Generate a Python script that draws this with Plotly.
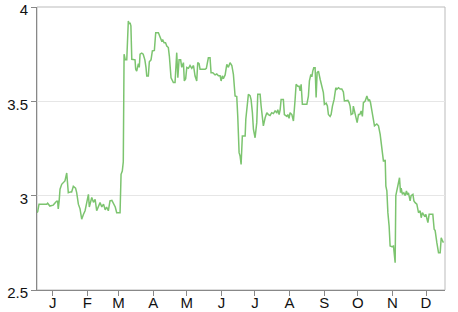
import pandas as pd
import plotly.graph_objects as go

# day offsets from Jan 1 and values
days = [0, 0.6, 1.8, 8.7, 9.5, 11.5, 14.5, 17.5, 18.5, 19, 19.8, 20.6, 22.1, 24, 25, 26.6, 27.2, 28, 30, 31, 32.5, 34.5,
        35.5, 37, 38.5, 40, 41.5, 43, 44.5, 46, 46.8, 49, 50.5, 52, 53.4, 55, 56.4, 58, 59.5, 61, 62.3, 63.8, 65.3, 67,
        68.3, 70, 71.3, 72.8, 74.3, 75.2, 76.3, 77.2, 77.9, 79, 80.3, 81.7, 82.5, 83.2, 84, 84.8, 86.5, 87.7, 88.3, 89.2,
        90.7, 91.5, 92.2, 93.7, 95, 96.5, 97.5, 98.2, 99.6, 100.5, 102, 103.2, 105, 106.2, 108.6, 109.2, 110.1, 111.5,
        112.5, 113.7, 115, 116.1, 117.5, 118.4, 119.9, 122, 123.5, 124.1, 125, 126, 127.1, 128.5, 129.5, 131, 131.8,
        133, 134, 135.5, 136.9, 138.5, 140, 141.4, 142.9, 143.8, 145, 145.9, 148, 150.4, 151.5, 153.3, 154.8, 155.7,
        157.3, 158.4, 159.3, 160.8, 162.3, 163.8, 164.7, 165.8, 166.7, 168.3, 169.8, 171.2, 172.7, 174.3, 175.7, 177.2,
        178.7, 179.6, 180.8, 181.7, 182.6, 183.7, 186.2, 186.8, 187.7, 189.1, 190.6, 191.5, 192.7, 193.6, 195.1, 196.6,
        197.5, 199.6, 200.5, 201.6, 202.5, 204.1, 205.6, 207, 208.5, 210, 211.5, 213, 214.5, 215.4, 216.6, 217.5, 218.4,
        220.4, 221.3, 223.5, 224.4, 225.5, 226.4, 228, 229.4, 230.9, 231.8, 233.3, 234.5, 235.4, 236.3, 237.4, 239.2,
        241.4, 242.8, 243.7, 245, 245.9, 246.7, 247.6, 248.8, 249.7, 250.6, 251.8, 253.3, 254.8, 256.2, 257.1, 258.7,
        259.8, 260.7, 262.2, 263.1, 264.3, 265.8, 267.3, 268.2, 269.7, 271.2, 272.7, 274.1, 275, 276.6, 278.1, 279.2,
        280.1, 281, 282.5, 283, 283.9, 285.2, 286.4, 287.6, 288.8, 290, 291.1, 292, 293.6, 295.1, 296.5, 297.4, 298.3,
        299.6, 301, 301.9, 304, 305.5, 307, 308.5, 309.9, 310.8, 311.5, 312.1, 313, 313.9, 315, 315.9, 317.5, 318.9,
        319.8, 320.4, 321, 321.9, 322.8, 323.4, 324.3, 325.2, 325.8, 326.9, 328.2, 329.4, 330.5, 331.4, 332.3, 333.8,
        334.7, 336.3, 337.2, 338.3, 339.8, 341.3, 342.8, 343.7, 344.8, 346.6, 347.9, 349.7, 350.8, 353.3, 354.1, 355.3,
        356.2, 357.7, 359.2, 360.7, 361.6, 362.8, 363.6]
values = [2.91, 2.915, 2.955, 2.955, 2.96, 2.945, 2.95, 2.97, 2.97, 2.93, 2.97, 3.034, 3.06, 3.07, 3.078, 3.12, 3.09,
          3.016, 3.02, 3.02, 3.05, 3.04, 3.016, 2.955, 2.93, 2.875, 2.9, 2.92, 2.963, 3.007, 2.94, 2.99, 2.965, 2.98,
          2.92, 2.95, 2.963, 2.94, 2.955, 2.925, 2.94, 2.92, 2.972, 2.975, 2.963, 2.94, 2.91, 2.91, 2.91, 3.113, 3.13,
          3.18, 3.75, 3.72, 3.72, 3.926, 3.91, 3.917, 3.9, 3.723, 3.72, 3.72, 3.67, 3.66, 3.7, 3.68, 3.75, 3.755, 3.75,
          3.72, 3.68, 3.634, 3.634, 3.71, 3.72, 3.767, 3.77, 3.864, 3.864, 3.855, 3.837, 3.82, 3.825, 3.81, 3.81, 3.793,
          3.785, 3.74, 3.625, 3.6, 3.6, 3.67, 3.758, 3.625, 3.72, 3.72, 3.68, 3.705, 3.608, 3.62, 3.68, 3.675, 3.69,
          3.675, 3.69, 3.634, 3.608, 3.705, 3.7, 3.67, 3.67, 3.67, 3.675, 3.731, 3.731, 3.652, 3.652, 3.646, 3.64, 3.645,
          3.635, 3.635, 3.608, 3.635, 3.62, 3.64, 3.696, 3.68, 3.705, 3.69, 3.643, 3.528, 3.525, 3.42, 3.228, 3.21, 3.166,
          3.316, 3.316, 3.405, 3.475, 3.537, 3.53, 3.51, 3.44, 3.352, 3.307, 3.387, 3.537, 3.537, 3.475, 3.42, 3.37,
          3.413, 3.44, 3.43, 3.425, 3.44, 3.435, 3.449, 3.44, 3.455, 3.43, 3.455, 3.51, 3.51, 3.43, 3.42, 3.43, 3.41,
          3.44, 3.43, 3.396, 3.51, 3.59, 3.58, 3.58, 3.555, 3.59, 3.484, 3.484, 3.484, 3.528, 3.608, 3.643, 3.63, 3.66,
          3.678, 3.678, 3.52, 3.652, 3.66, 3.617, 3.581, 3.546, 3.484, 3.49, 3.475, 3.43, 3.42, 3.43, 3.475, 3.51,
          3.572, 3.564, 3.572, 3.565, 3.565, 3.55, 3.502, 3.505, 3.505, 3.493, 3.475, 3.43, 3.435, 3.475, 3.45, 3.42,
          3.387, 3.43, 3.43, 3.449, 3.42, 3.493, 3.502, 3.528, 3.502, 3.51, 3.495, 3.449, 3.387, 3.37, 3.38, 3.37,
          3.325, 3.254, 3.184, 3.184, 3.19, 3.051, 3.025, 2.91, 2.84, 2.733, 2.73, 2.733, 2.68, 2.645, 3.0, 3.025,
          3.051, 3.06, 3.095, 3.016, 3.04, 3.007, 3.015, 3.0, 3.025, 3.005, 3.015, 2.972, 3.0, 3.007, 2.972, 2.963,
          2.955, 2.91, 2.92, 2.883, 2.91, 2.892, 2.9, 2.857, 2.901, 2.901, 2.901, 2.822, 2.815, 2.751, 2.698, 2.698,
          2.777, 2.76, 2.751]

month_labels = ["J", "F", "M", "A", "M", "J", "J", "A", "S", "O", "N", "D"]
y_ticks = [2.5, 3, 3.5, 4]

start = pd.Timestamp("2019-01-01")
dates = start + pd.to_timedelta(days, unit="D")
mid_months = [pd.Timestamp(2019, m, 15) for m in range(1, 13)]

fig = go.Figure()
fig.add_trace(go.Scatter(x=dates, y=values, mode="lines",
                         line=dict(color="#7cc46f", width=1.5), showlegend=False))

font = dict(family="Liberation Sans, Arial, sans-serif", size=15, color="#111")
fig.update_layout(
    width=458, height=312,
    margin=dict(l=37, r=13, t=7, b=22),
    paper_bgcolor="white", plot_bgcolor="white",
    font=font,
    xaxis=dict(range=[start, pd.Timestamp("2020-01-01")], tickvals=mid_months, ticktext=month_labels,
               showgrid=False, zeroline=False, showline=True, linecolor="#888", linewidth=1,
               ticks="outside", ticklen=5, tickcolor="#888", tickfont=font,
               automargin=False, ticklabeloverflow="allow", ticklabelstandoff=-6),
    yaxis=dict(range=[2.5, 4], tickvals=y_ticks, ticktext=["2.5", "3", "3.5", "4"],
               showgrid=True, gridcolor="#e6e6e6", zeroline=False, showline=True, linecolor="#888",
               linewidth=1, ticks="outside", ticklen=5, tickcolor="#888", tickfont=font,
               automargin=False, ticklabeloverflow="allow", ticklabelshift=3),
    shapes=[dict(type="rect", xref="paper", yref="paper", x0=0, x1=1, y0=0, y1=1,
                 line=dict(color="#bbbbbb", width=1), layer="below")],
)
fig.write_html("out.html")
